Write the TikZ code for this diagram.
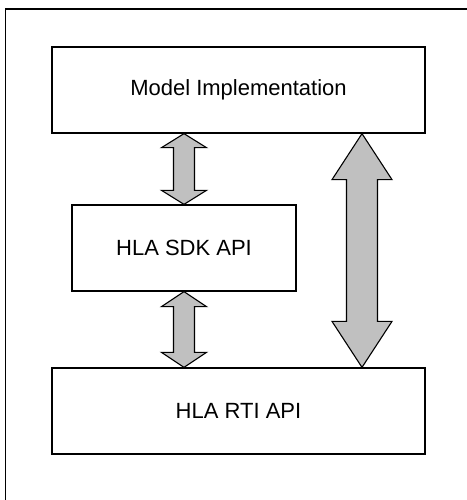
\documentclass[tikz,border=0pt]{standalone}
\usepackage{fontspec}
\setmainfont{Liberation Sans}
\usetikzlibrary{calc}
\tikzset{
  box/.style={draw, line width=1.3pt, inner sep=0pt, font=\fontsize{22}{25}\selectfont},
  frame/.style={draw, line width=1.8pt},
  arr/.style={draw, fill={rgb,255:red,192;green,192;blue,192}, line width=1.1pt, line join=miter}
}
\newcommand{\darrow}[6]{%
  \filldraw[arr] let \p1=(#2), \p2=(#3) in
   (#1pt,\y1) -- (#1pt+#4pt,\y1-#6pt) -- (#1pt+#5pt,\y1-#6pt) -- (#1pt+#5pt,\y2+#6pt)
   -- (#1pt+#4pt,\y2+#6pt) -- (#1pt,\y2) -- (#1pt-#4pt,\y2+#6pt) -- (#1pt-#5pt,\y2+#6pt)
   -- (#1pt-#5pt,\y1-#6pt) -- (#1pt-#4pt,\y1-#6pt) -- cycle;}
\begin{document}
\begin{tikzpicture}[x=1pt,y=-1pt]
\useasboundingbox (0,0) rectangle (466,500);
\draw[frame] (5.5,501) -- (5.5,9) -- (467,9);
\node[box, minimum width=373pt, minimum height=86pt] (model) at (238.5,90) {Model Implementation};
\node[box, minimum width=224pt, minimum height=86pt] (sdk) at (184,248) {HLA SDK API};
\node[box, minimum width=373pt, minimum height=86pt] (rti) at (238.5,411) {HLA RTI API};
\darrow{184}{model.south}{sdk.north}{22.5}{10.5}{14}
\darrow{184}{sdk.south}{rti.north}{22.5}{10.5}{15}
\darrow{362}{model.south}{rti.north}{30}{15.5}{46}
\end{tikzpicture}
\end{document}
